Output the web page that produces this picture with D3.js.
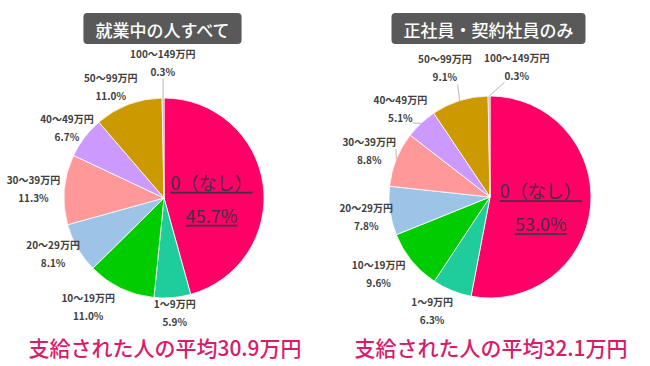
<!DOCTYPE html>
<html>
<head>
<meta charset="utf-8">
<script src="https://cdn.jsdelivr.net/npm/d3@7"></script>
<style>
  body { margin: 0; background: #fff; }
  svg { display: block; font-family: "Noto Sans CJK JP", "Noto Sans", sans-serif; }
</style>
</head>
<body>
<div id="chart"></div>
<script>
// 賞与の支給額（割合 %）
var categories = ["0（なし）", "1～9万円", "10～19万円", "20～29万円", "30～39万円", "40～49万円", "50～99万円", "100～149万円"];
var allWorkers = [45.7, 5.9, 11.0, 8.1, 11.3, 6.7, 11.0, 0.3];
var regularWorkers = [53.0, 6.3, 9.6, 7.8, 8.8, 5.1, 9.1, 0.3];
var titles = ["就業中の人すべて", "正社員・契約社員のみ"];
var averages = ["30.9", "32.1"];

var palette = ["#ff0066", "#1fcc9c", "#00cc00", "#9dc3e6", "#ff9999", "#cc99ff", "#cc9900", "#a6a6a6"];

var width = 650, height = 366;

var svg = d3.select("#chart")
  .append("svg")
  .attr("width", width)
  .attr("height", height);

// レイアウト（中心・半径・ラベルのずらし）
var charts = [
  { title: titles[0], values: allWorkers, avg: averages[0],
    cx: 164, cy: 198, r: 100, labelR: 127,
    nudge: [[-2, 7], [0, -12], [-21, -6], [-1, -8], [-4, 1], [4, 6], [-8, 7], [0, -9]],
    leaders: { 7: 1 } },
  { title: titles[1], values: regularWorkers, avg: averages[1],
    cx: 490, cy: 197, r: 101, labelR: 127,
    nudge: [[1, 5], [-10, -4], [-13, -4], [2, 2], [-3, 1], [-3, 4], [-7, -8], [28, -4]],
    leaders: { 7: 1, 6: 1, 5: 1, 4: 0 } }
];

var pie = d3.pie().sort(null).value(function(d) { return d; });
var fmt = d3.format(".1f");

charts.forEach(function(c) {
  var g = svg.append("g").attr("transform", "translate(" + c.cx + "," + c.cy + ")");
  var arc = d3.arc().innerRadius(0).outerRadius(c.r);
  var arcs = pie(c.values);

  // スライス
  g.selectAll(".slice")
    .data(arcs)
    .enter().append("path")
    .attr("class", "slice")
    .attr("d", arc)
    .attr("fill", function(d, i) { return palette[i]; })
    .attr("stroke", "#fff")
    .attr("stroke-width", 0.8);

  function mid(d) { return (d.startAngle + d.endAngle) / 2; }

  // 外側ラベル
  arcs.forEach(function(d, i) {
    if (i === 0) return;
    var a = mid(d);
    var x = c.labelR * Math.sin(a) + c.nudge[i][0];
    var y = -c.labelR * Math.cos(a) + c.nudge[i][1];
    var lg = g.append("g").attr("class", "label");
    var t1 = lg.append("text")
      .attr("x", x).attr("y", y - 9)
      .attr("text-anchor", "middle")
      .attr("dominant-baseline", "central")
      .attr("font-size", 10)
      .attr("font-weight", 600)
      .attr("fill", "#404040")
      .text(categories[i]);
    var t2 = lg.append("text")
      .attr("x", x).attr("y", y + 9)
      .attr("text-anchor", "middle")
      .attr("dominant-baseline", "central")
      .attr("font-size", 10)
      .attr("font-weight", 600)
      .attr("fill", "#404040")
      .text(fmt(c.values[i]) + "%");

    if (c.leaders[i] !== undefined) {
      var box = (c.leaders[i] === 0 ? t1 : t2).node().getBBox();
      var px = c.r * Math.sin(a), py = -c.r * Math.cos(a);
      var qx = Math.max(box.x, Math.min(px, box.x + box.width));
      var qy = Math.max(box.y, Math.min(py, box.y + box.height));
      g.insert("line", ".label")
        .attr("x1", px).attr("y1", py)
        .attr("x2", qx).attr("y2", qy)
        .attr("stroke", "#a6a6a6")
        .attr("stroke-width", 0.8);
    }
  });

  // 「0（なし）」のラベル（スライス内）
  var d0 = arcs[0], a0 = mid(d0);
  var ix = 50 * Math.sin(a0) + c.nudge[0][0];
  var iy = -50 * Math.cos(a0) + c.nudge[0][1];
  [categories[0], fmt(c.values[0]) + "%"].forEach(function(s, k) {
    g.append("text")
      .attr("x", ix).attr("y", iy + (k === 0 ? -16.5 : 16.5))
      .attr("text-anchor", "middle")
      .attr("dominant-baseline", "central")
      .attr("font-size", 18)
      .attr("fill", "#4a2c44")
      .style("text-decoration", "underline")
      .text(s);
  });

  // タイトル
  var tg = svg.append("g");
  var tt = tg.append("text")
    .attr("x", c.cx - 1.5).attr("y", 29)
    .attr("text-anchor", "middle")
    .attr("dominant-baseline", "central")
    .attr("font-size", 17)
    .attr("font-weight", 500)
    .attr("fill", "#fff")
    .text(c.title);
  var tb = tt.node().getBBox();
  tg.insert("rect", "text")
    .attr("x", tb.x - 12).attr("y", 13)
    .attr("width", tb.width + 24).attr("height", 31)
    .attr("rx", 4)
    .attr("fill", "#595959");

  // 平均
  svg.append("text")
    .attr("x", c.cx + 1).attr("y", 347)
    .attr("text-anchor", "middle")
    .attr("dominant-baseline", "central")
    .attr("font-size", 21)
    .attr("font-weight", 500)
    .attr("fill", "#d81b6a")
    .text("支給された人の平均" + c.avg + "万円");
});
</script>
</body>
</html>
